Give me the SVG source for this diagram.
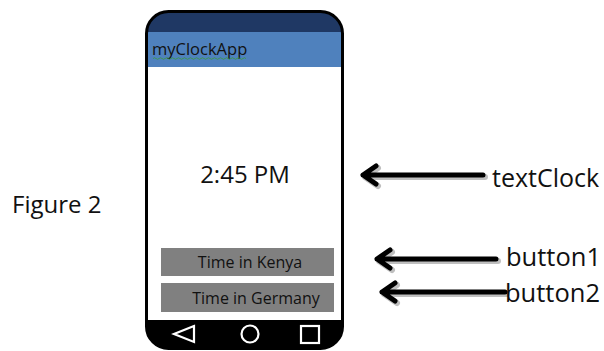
<svg xmlns="http://www.w3.org/2000/svg" width="604" height="351" viewBox="0 0 604 351">
<defs>
<style>
.t{font-family:"Open Sans","Liberation Sans",sans-serif;fill:#111}
.btn{fill:#808080}
.bt{font-family:"Open Sans","Liberation Sans",sans-serif;font-size:16px;fill:#111;text-anchor:middle}
.arr{fill:none;stroke:#000;stroke-width:5;stroke-linecap:round;stroke-linejoin:round}
.sh{fill:none;stroke:#000;stroke-opacity:0.25;stroke-width:6;stroke-linecap:round;stroke-linejoin:round}
.ic{fill:none;stroke:#fff;stroke-width:2.2}
</style>
<clipPath id="pc"><rect x="146.5" y="11.5" width="196" height="337" rx="22"/></clipPath>
</defs>
<g id="phone">
<g clip-path="url(#pc)">
<rect x="140" y="5" width="210" height="346" fill="#fff"/>
<rect x="140" y="5" width="210" height="27" fill="#1f3864"/>
<rect x="140" y="32" width="210" height="35" fill="#4f81bd"/>
<rect x="140" y="320" width="210" height="35" fill="#000"/>
</g>
<rect x="146.5" y="11.5" width="196" height="337" rx="22" fill="none" stroke="#000" stroke-width="3"/>
<text class="t" x="152" y="55" font-size="16.5">myClockApp</text>
<path d="M153 58.5 q1.5 -1.5 3 0 t3 0 t3 0 t3 0 t3 0 t3 0 t3 0 t3 0 t3 0 t3 0 t3 0 t3 0 t3 0 t3 0 t3 0 t3 0 t3 0 t3 0 t3 0 t3 0 t3 0 t3 0 t3 0 t3 0 t3 0 t3 0 t3 0 t3 0 t3 0 t3 0 t3 0" fill="none" stroke="#3a9a3a" stroke-width="0.8"/>
<text class="t" x="245" y="183" font-size="24" text-anchor="middle">2:45 PM</text>
<path class="ic" d="M194 326 L174 334 L194 342 Z"/>
<circle class="ic" cx="250" cy="334" r="8.5"/>
<rect class="ic" x="301" y="326" width="18" height="17"/>
</g>
<g id="button1">
<rect class="btn" x="161" y="248" width="173" height="28"/>
<text class="bt" x="250" y="268">Time in Kenya</text>
</g>
<g id="button2">
<rect class="btn" x="161" y="283" width="173" height="29"/>
<text class="bt" x="256" y="304">Time in Germany</text>
</g>
<g id="figure-label">
<text class="t" x="12" y="213" font-size="24">Figure 2</text>
</g>
<g id="label-textClock"><text class="t" x="492" y="187" font-size="25">textClock</text></g>
<g id="label-button1"><text class="t" x="506" y="266" font-size="25.5">button1</text></g>
<g id="label-button2"><text class="t" x="505" y="302" font-size="25.5">button2</text></g>
<g id="connectors">
<path class="sh" d="M485 177 L365 177 M378 168 L365 177 L378 186"/>
<path class="arr" d="M483 175 L363 175 M376 166 L363 175 L376 184"/>
<path class="sh" d="M498 261 L379 261 M392 252 L379 261 L392 270"/>
<path class="arr" d="M496 259 L377 259 M390 250 L377 259 L390 268"/>
<path class="sh" d="M507 294 L384 294 M397 285 L384 294 L397 303"/>
<path class="arr" d="M505 292 L382 292 M395 283 L382 292 L395 301"/>
</g>
</svg>
